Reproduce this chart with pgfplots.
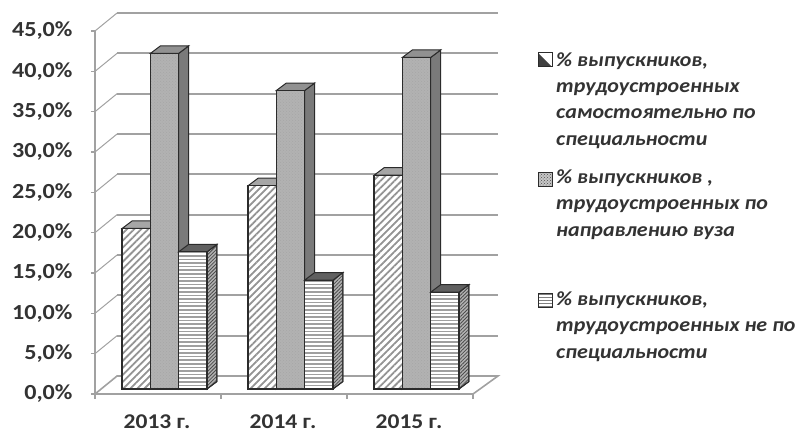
\documentclass[border=0pt]{standalone}
\usepackage{fontspec}
\setmainfont{Carlito}[FakeStretch=1.12]
\newfontfamily\legfont{Carlito}[FakeStretch=1.10]
\usepackage{pgfplots}
\pgfplotsset{compat=1.18}
\usetikzlibrary{patterns,patterns.meta}
\definecolor{ink}{gray}{0.2}
\definecolor{wall}{gray}{0.63}
\definecolor{edge}{gray}{0.17}
\pgfdeclarepatternformonly{hlines}{\pgfqpoint{-1pt}{0pt}}{\pgfqpoint{5pt}{3.6pt}}{\pgfqpoint{3.6pt}{3.6pt}}{%
  \pgfsetlinewidth{1.6pt}\pgfpathmoveto{\pgfqpoint{-1pt}{1.8pt}}\pgfpathlineto{\pgfqpoint{5pt}{1.8pt}}\pgfusepath{stroke}}
\pgfdeclarepatternformonly{hlinessmall}{\pgfqpoint{-1pt}{0pt}}{\pgfqpoint{5pt}{3pt}}{\pgfqpoint{3pt}{3pt}}{%
  \pgfsetlinewidth{1.1pt}\pgfpathmoveto{\pgfqpoint{-1pt}{1.5pt}}\pgfpathlineto{\pgfqpoint{5pt}{1.5pt}}\pgfusepath{stroke}}
\newcommand\threed[5]{%
  \pgfmathsetmacro\xl{#1+(#2-14.15+6.5)/126}%
  \pgfmathsetmacro\xr{\xl+28.3/126}%
  \pgfmathsetmacro\xlb{\xl+10/126}%
  \pgfmathsetmacro\xrb{\xr+10/126}%
  \pgfmathsetmacro\yf{#3+0.62}%
  \pgfmathsetmacro\yb{\yf+0.93}%
  \addplot[draw=edge,line width=1pt,#4] coordinates {(\xr,0.62) (\xrb,1.55) (\xrb,\yb) (\xr,\yf)} --cycle;
  \addplot[draw=edge,line width=1pt,fill=#5] coordinates {(\xl,\yf) (\xlb,\yb) (\xrb,\yb) (\xr,\yf)} --cycle;
}
\begin{document}
\begin{tikzpicture}[x=1pt,y=1pt]
\path[use as bounding box] (0,0) rectangle (797,434);
\begin{axis}[
  at={(95pt,40pt)}, anchor=south west,
  scale only axis, width=378pt, height=363pt,
  xmin=-0.5, xmax=2.5, ymin=0, ymax=45, clip=false,
  axis x line*=bottom, axis y line*=left,
  axis line style={-, wall, line width=1.6pt},
  xtick={0,1,2}, xticklabels={2013 г.,2014 г.,2015 г.},
  minor xtick={-0.5,0.5,1.5,2.5},
  major x tick style={draw=none},
  minor x tick style={wall, line width=1.4pt},
  minor tick length=5pt,
  ytick={0,5,...,45},
  y tick style={wall, line width=1.4pt},
  major tick length=4pt,
  tick align=outside,
  /pgf/number format/.cd, fixed, fixed zerofill, precision=1, use comma, assume math mode=true,
  /pgfplots/.cd,
  yticklabel={\pgfmathprintnumber{\tick}\%},
  yticklabel style={font=\fontsize{21.5}{21.5}\selectfont\bfseries, text=ink, anchor=east, xshift=-15pt},
  xticklabel style={font=\fontsize{21}{21}\selectfont\bfseries, text=ink, inner sep=0pt, yshift=-17pt, xshift=-1pt},
]
% back wall, side wall and floor
\addplot[wall,line width=1.6pt] coordinates {(-0.5,0) (-0.325,2.23) (2.698,2.23) (2.5,0)};
\addplot[wall,line width=1pt] coordinates {(-0.5,5) (-0.325,7.23)};
\addplot[wall,line width=1.8pt] coordinates {(-0.325,7.23) (2.698,7.23)};
\addplot[wall,line width=1pt] coordinates {(-0.5,10) (-0.325,12.23)};
\addplot[wall,line width=1.8pt] coordinates {(-0.325,12.23) (2.698,12.23)};
\addplot[wall,line width=1pt] coordinates {(-0.5,15) (-0.325,17.23)};
\addplot[wall,line width=1.8pt] coordinates {(-0.325,17.23) (2.698,17.23)};
\addplot[wall,line width=1pt] coordinates {(-0.5,20) (-0.325,22.23)};
\addplot[wall,line width=1.8pt] coordinates {(-0.325,22.23) (2.698,22.23)};
\addplot[wall,line width=1pt] coordinates {(-0.5,25) (-0.325,27.23)};
\addplot[wall,line width=1.8pt] coordinates {(-0.325,27.23) (2.698,27.23)};
\addplot[wall,line width=1pt] coordinates {(-0.5,30) (-0.325,32.23)};
\addplot[wall,line width=1.8pt] coordinates {(-0.325,32.23) (2.698,32.23)};
\addplot[wall,line width=1pt] coordinates {(-0.5,35) (-0.325,37.23)};
\addplot[wall,line width=1.8pt] coordinates {(-0.325,37.23) (2.698,37.23)};
\addplot[wall,line width=1pt] coordinates {(-0.5,40) (-0.325,42.23)};
\addplot[wall,line width=1.8pt] coordinates {(-0.325,42.23) (2.698,42.23)};
\addplot[wall,line width=1pt] coordinates {(-0.5,45) (-0.325,47.23)};
\addplot[wall,line width=1.8pt] coordinates {(-0.325,47.23) (2.698,47.23)};
% series 1
\threed{0}{-28.3}{19.9}{fill=white,postaction={pattern={Lines[angle=45,distance=4pt,line width=1.5pt]},pattern color=gray}}{gray!70}
\threed{1}{-28.3}{25.2}{fill=white,postaction={pattern={Lines[angle=45,distance=4pt,line width=1.5pt]},pattern color=gray}}{gray!70}
\threed{2}{-28.3}{26.5}{fill=white,postaction={pattern={Lines[angle=45,distance=4pt,line width=1.5pt]},pattern color=gray}}{gray!70}
\addplot[ybar, /pgf/bar width=28.3pt, /pgf/bar shift=-28.3pt, xshift=6.5pt, yshift=5pt,
  draw=edge, line width=1.2pt, preaction={fill=white},
  pattern={Lines[angle=45,distance=5pt,line width=1.8pt]}, pattern color=gray!85]
  coordinates {(0,19.9) (1,25.2) (2,26.5)};
% series 2
\threed{0}{0}{41.6}{fill={rgb,255:red,122;green,122;blue,122}}{{rgb,255:red,145;green,145;blue,145}}
\threed{1}{0}{37.0}{fill={rgb,255:red,122;green,122;blue,122}}{{rgb,255:red,145;green,145;blue,145}}
\threed{2}{0}{41.1}{fill={rgb,255:red,122;green,122;blue,122}}{{rgb,255:red,145;green,145;blue,145}}
\addplot[ybar, /pgf/bar width=28.3pt, /pgf/bar shift=0pt, xshift=6.5pt, yshift=5pt,
  draw=edge, line width=1.2pt, fill={rgb,255:red,178;green,178;blue,178},
  postaction={pattern=crosshatch dots, pattern color=gray!70}]
  coordinates {(0,41.6) (1,37.0) (2,41.1)};
% series 3
\threed{0}{28.3}{17.0}{fill=gray!60,postaction={pattern={Lines[angle=45,distance=2.5pt,line width=.8pt]},pattern color=black!70}}{gray!75!black}
\threed{1}{28.3}{13.5}{fill=gray!60,postaction={pattern={Lines[angle=45,distance=2.5pt,line width=.8pt]},pattern color=black!70}}{gray!75!black}
\threed{2}{28.3}{12.0}{fill=gray!60,postaction={pattern={Lines[angle=45,distance=2.5pt,line width=.8pt]},pattern color=black!70}}{gray!75!black}
\addplot[ybar, /pgf/bar width=28.3pt, /pgf/bar shift=28.3pt, xshift=6.5pt, yshift=5pt,
  draw=edge, line width=1.2pt, preaction={fill=white},
  pattern=hlines, pattern color=gray!75]
  coordinates {(0,17.0) (1,13.5) (2,12.0)};
\end{axis}
% legend
\begin{scope}[every node/.style={anchor=base west, inner sep=0pt, text=ink, font=\legfont\fontsize{20}{20}\selectfont\bfseries\itshape}]
\node at (556,367) {\% выпускников,};
\node at (556,341.5) {трудоустроенных};
\node at (556,315) {самостоятельно по};
\node at (556,288) {специальности};
\node at (556,250) {\% выпускников ,};
\node at (556,224) {трудоустроенных по};
\node at (556,197) {направлению вуза};
\node at (556,129) {\% выпускников,};
\node at (556,103) {трудоустроенных не по};
\node at (556,76) {специальности};
\end{scope}
\fill[black!75] (538,381) -- (538,367) -- (552,367) -- cycle;
\draw[edge,line width=1pt] (538,367) rectangle (552,381);
\fill[gray!45] (538,247) rectangle (552,261);
\fill[pattern=crosshatch dots,pattern color=black!70] (538,247) rectangle (552,261);
\draw[edge,line width=1pt] (538,247) rectangle (552,261);
\fill[pattern=hlinessmall,pattern color=gray] (538,127) rectangle (552,141);
\draw[edge,line width=1pt] (538,127) rectangle (552,141);
\end{tikzpicture}
\end{document}
